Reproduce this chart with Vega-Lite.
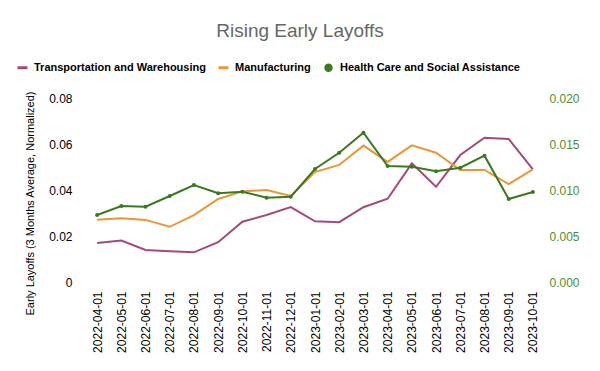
{
  "$schema": "https://vega.github.io/schema/vega-lite/v6.json",
  "width": 460,
  "height": 184,
  "autosize": {"type": "none"},
  "padding": {"left": 85, "top": 98, "right": 55, "bottom": 89},
  "background": "white",
  "config": {
    "view": {"stroke": null},
    "font": "Liberation Sans"
  },
  "title": {
    "text": "Rising Early Layoffs",
    "fontSize": 19,
    "fontWeight": "normal",
    "color": "#666666",
    "anchor": "middle",
    "frame": "group",
    "dx": -15,
    "offset": 21
  },
  "data": {
    "values": [
      {"date": "2022-04-01", "series": "Transportation and Warehousing", "value": 0.0170},
      {"date": "2022-05-01", "series": "Transportation and Warehousing", "value": 0.0180},
      {"date": "2022-06-01", "series": "Transportation and Warehousing", "value": 0.0139},
      {"date": "2022-07-01", "series": "Transportation and Warehousing", "value": 0.0134},
      {"date": "2022-08-01", "series": "Transportation and Warehousing", "value": 0.0129},
      {"date": "2022-09-01", "series": "Transportation and Warehousing", "value": 0.0173},
      {"date": "2022-10-01", "series": "Transportation and Warehousing", "value": 0.0262},
      {"date": "2022-11-01", "series": "Transportation and Warehousing", "value": 0.0291},
      {"date": "2022-12-01", "series": "Transportation and Warehousing", "value": 0.0326},
      {"date": "2023-01-01", "series": "Transportation and Warehousing", "value": 0.0264},
      {"date": "2023-02-01", "series": "Transportation and Warehousing", "value": 0.0260},
      {"date": "2023-03-01", "series": "Transportation and Warehousing", "value": 0.0325},
      {"date": "2023-04-01", "series": "Transportation and Warehousing", "value": 0.0362},
      {"date": "2023-05-01", "series": "Transportation and Warehousing", "value": 0.0516},
      {"date": "2023-06-01", "series": "Transportation and Warehousing", "value": 0.0414},
      {"date": "2023-07-01", "series": "Transportation and Warehousing", "value": 0.0552},
      {"date": "2023-08-01", "series": "Transportation and Warehousing", "value": 0.0627},
      {"date": "2023-09-01", "series": "Transportation and Warehousing", "value": 0.0622},
      {"date": "2023-10-01", "series": "Transportation and Warehousing", "value": 0.0490},
      {"date": "2022-04-01", "series": "Manufacturing", "value": 0.0271},
      {"date": "2022-05-01", "series": "Manufacturing", "value": 0.0277},
      {"date": "2022-06-01", "series": "Manufacturing", "value": 0.0270},
      {"date": "2022-07-01", "series": "Manufacturing", "value": 0.0240},
      {"date": "2022-08-01", "series": "Manufacturing", "value": 0.0291},
      {"date": "2022-09-01", "series": "Manufacturing", "value": 0.0361},
      {"date": "2022-10-01", "series": "Manufacturing", "value": 0.0394},
      {"date": "2022-11-01", "series": "Manufacturing", "value": 0.0400},
      {"date": "2022-12-01", "series": "Manufacturing", "value": 0.0374},
      {"date": "2023-01-01", "series": "Manufacturing", "value": 0.0478},
      {"date": "2023-02-01", "series": "Manufacturing", "value": 0.0509},
      {"date": "2023-03-01", "series": "Manufacturing", "value": 0.0593},
      {"date": "2023-04-01", "series": "Manufacturing", "value": 0.0522},
      {"date": "2023-05-01", "series": "Manufacturing", "value": 0.0594},
      {"date": "2023-06-01", "series": "Manufacturing", "value": 0.0562},
      {"date": "2023-07-01", "series": "Manufacturing", "value": 0.0487},
      {"date": "2023-08-01", "series": "Manufacturing", "value": 0.0487},
      {"date": "2023-09-01", "series": "Manufacturing", "value": 0.0426},
      {"date": "2023-10-01", "series": "Manufacturing", "value": 0.0490},
      {"date": "2022-04-01", "series": "Health Care and Social Assistance", "value": 0.00728},
      {"date": "2022-05-01", "series": "Health Care and Social Assistance", "value": 0.00826},
      {"date": "2022-06-01", "series": "Health Care and Social Assistance", "value": 0.00819},
      {"date": "2022-07-01", "series": "Health Care and Social Assistance", "value": 0.00935},
      {"date": "2022-08-01", "series": "Health Care and Social Assistance", "value": 0.01054},
      {"date": "2022-09-01", "series": "Health Care and Social Assistance", "value": 0.00964},
      {"date": "2022-10-01", "series": "Health Care and Social Assistance", "value": 0.00982},
      {"date": "2022-11-01", "series": "Health Care and Social Assistance", "value": 0.00916},
      {"date": "2022-12-01", "series": "Health Care and Social Assistance", "value": 0.00927},
      {"date": "2023-01-01", "series": "Health Care and Social Assistance", "value": 0.01228},
      {"date": "2023-02-01", "series": "Health Care and Social Assistance", "value": 0.01405},
      {"date": "2023-03-01", "series": "Health Care and Social Assistance", "value": 0.01623},
      {"date": "2023-04-01", "series": "Health Care and Social Assistance", "value": 0.01261},
      {"date": "2023-05-01", "series": "Health Care and Social Assistance", "value": 0.01253},
      {"date": "2023-06-01", "series": "Health Care and Social Assistance", "value": 0.01203},
      {"date": "2023-07-01", "series": "Health Care and Social Assistance", "value": 0.01242},
      {"date": "2023-08-01", "series": "Health Care and Social Assistance", "value": 0.01373},
      {"date": "2023-09-01", "series": "Health Care and Social Assistance", "value": 0.00902},
      {"date": "2023-10-01", "series": "Health Care and Social Assistance", "value": 0.00978}
    ]
  },
  "encoding": {
    "x": {
      "field": "date",
      "type": "ordinal",
      "sort": null,
      "scale": {"type": "point", "padding": 0.5},
      "axis": {
        "title": null,
        "labelAngle": 270,
        "labelFontSize": 12,
        "labelColor": "#000000",
        "labelPadding": 9,
        "ticks": false,
        "domain": false,
        "grid": false
      }
    },
    "color": {
      "field": "series",
      "type": "nominal",
      "scale": {
        "domain": ["Transportation and Warehousing", "Manufacturing", "Health Care and Social Assistance"],
        "range": ["#a3497e", "#ec9536", "#3a7a1e"]
      },
      "legend": {
        "title": null,
        "orient": "none",
        "direction": "horizontal",
        "legendX": -68,
        "legendY": -36,
        "labelFontSize": 11,
        "labelFontWeight": "bold",
        "labelColor": "#000000",
        "labelLimit": 300,
        "columnPadding": 12,
        "symbolOffset": 0,
        "labelOffset": 6,
        "symbolType": "circle",
        "symbolSize": 80,
        "encode": {
          "symbols": {
            "update": {
              "shape": {"signal": "datum.value === 'Health Care and Social Assistance' ? 'circle' : 'M-1,-0.3H1V0.3H-1Z'"},
              "size": {"signal": "datum.value === 'Health Care and Social Assistance' ? 70 : 100"},
              "fill": {"scale": "color", "field": "value"},
              "stroke": {"value": "transparent"},
              "strokeWidth": {"value": 0},
              "opacity": {"value": 1}
            }
          }
        }
      }
    }
  },
  "layer": [
    {
      "transform": [{"filter": "datum.series !== 'Health Care and Social Assistance'"}],
      "mark": {"type": "line", "strokeWidth": 2},
      "encoding": {
        "y": {
          "field": "value",
          "type": "quantitative",
          "scale": {"domain": [0, 0.08], "nice": false},
          "axis": {
            "title": "Early Layoffs (3 Months Average, Normalized)",
            "titleFontSize": 11,
            "titleFontWeight": "normal",
            "titleColor": "#000000",
            "titleX": -55,
            "titleY": 105,
            "titleBaseline": "middle",
            "titleAlign": "center",
            "titleAngle": 270,
            "values": [0, 0.02, 0.04, 0.06, 0.08],
            "labelExpr": "datum.value === 0 ? '0' : format(datum.value, '.2f')",
            "labelFontSize": 12,
            "labelColor": "#000000",
            "labelPadding": 13,
            "ticks": false,
            "domain": false,
            "grid": false
          }
        }
      }
    },
    {
      "transform": [{"filter": "datum.series === 'Health Care and Social Assistance'"}],
      "layer": [
        {"mark": {"type": "line", "strokeWidth": 2}, "encoding": {}},
        {"mark": {"type": "point", "filled": true, "size": 16, "opacity": 1}, "encoding": {}}
      ],
      "encoding": {
        "y": {
          "field": "value",
          "type": "quantitative",
          "scale": {"domain": [0, 0.02], "nice": false},
          "axis": {
            "orient": "right",
            "title": null,
            "values": [0, 0.005, 0.01, 0.015, 0.02],
            "format": ".3f",
            "labelFontSize": 12,
            "labelColor": "#4e8f2e",
            "labelPadding": 4,
            "ticks": false,
            "domain": false,
            "grid": false
          }
        }
      }
    }
  ],
  "resolve": {"scale": {"y": "independent"}}
}
